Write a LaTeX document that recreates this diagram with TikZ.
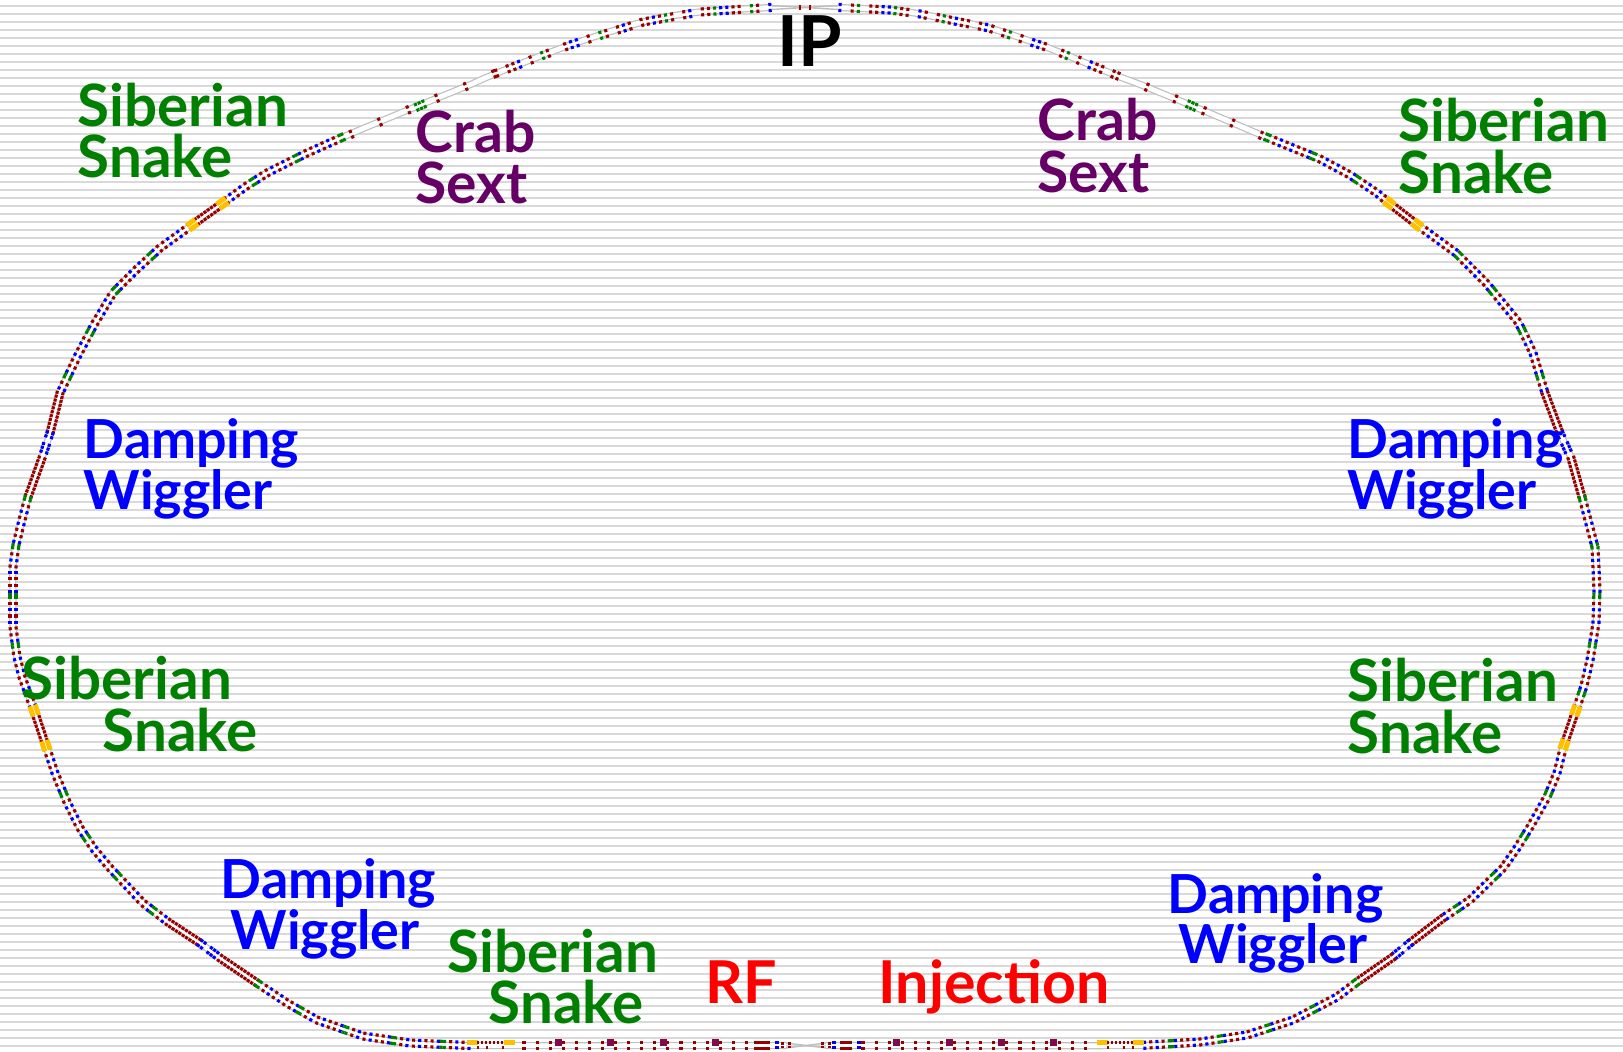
\documentclass[tikz,border=0pt]{standalone}
\usepackage{fontspec}
\setmainfont{Lato}
\usetikzlibrary{decorations.markings}
\definecolor{stripegray}{RGB}{217,217,217}
\definecolor{ringline}{RGB}{190,190,190}
\definecolor{magR}{RGB}{153,0,0}
\definecolor{magB}{RGB}{0,0,255}
\definecolor{magG}{RGB}{0,128,0}
\definecolor{snakeY}{RGB}{255,192,0}
\definecolor{rfP}{RGB}{128,10,75}
\definecolor{crabP}{RGB}{102,0,102}
\definecolor{labG}{RGB}{0,128,0}
\newcommand{\magcolor}[1]{\ifcase#1 ringline\or magR\or magB\or magG\fi}
\newcommand{\ringpart}[2]{\path[#1] plot coordinates {#2};}
\newcommand{\snakepair}{\fill[snakeY] (-1.5pt,0.1pt) rectangle (1.5pt,1.5pt); \fill[snakeY] (-1.5pt,-0.1pt) rectangle (1.5pt,-1.5pt);}
\begin{document}
\begin{tikzpicture}[
    x=0.01cm, y=-0.01cm,
    stripe/.style={stripegray, line width=0.57pt},
    ringpipe/.style={ringline, line width=0.34pt, double=white, double distance=1.36pt},
    ringcross/.style={ringline, line width=0.4pt},
    % 0 gap, 1 red, 2 blue, 3 green
    lattice/.style n args={3}{decorate, decoration={markings,
        mark=between positions 0 and 1 step #3 with {
            \pgfmathtruncatemacro\magn{mod(\pgfkeysvalueof{/pgf/decoration/mark info/sequence number}-1,#1)}
            \pgfmathtruncatemacro\magk{{#2}[\magn]}
            \ifnum\magk>0
            \edef\magcol{\magcolor{\magk}}
            \fill[\magcol] (-0.44pt,0.4pt) rectangle (0.44pt,1.3pt);
            \fill[\magcol] (-0.44pt,-0.4pt) rectangle (0.44pt,-1.3pt);
            \fi
        }}},
    irmags/.style={lattice={49}{2,0,1,3,0,1,1,2,2,3,1,1,0,2,1,0,1,3,1,2,1,1,0,1,2,1,0,1,3,0,1,0,2,2,1,0,0,1,3,0,1,0,2,1,1,0,1,1,1}{1.75pt}},
    arcmags/.style={lattice={16}{3,3,0,1,0,2,0,1,0,2,0,1,0,1,0,2}{0.88pt}},
    densemags/.style={lattice={1}{1,1}{1.14pt}},
    bluemags/.style={lattice={7}{2,2,0,2,2,2,0}{1.14pt}},
    crabmags/.style={lattice={1}{3,3}{1.14pt}},
    sparsemags/.style={lattice={1}{1,1}{8.8pt}},
    rfmags/.style={lattice={1}{1,1}{3.72pt}},
    snakeends/.style={decorate, decoration={markings,
        mark=at position 0.01 with {\snakepair},
        mark=at position 0.99 with {\snakepair}}},
    mag/.style={magR},
    lab/.style={anchor=base west, inner sep=0pt, yshift=-0.4pt, font=\fontsize{20}{20}\selectfont\bfseries},
    snakelab/.style={lab, text=labG, font=\fontsize{16.6}{17}\selectfont\bfseries},
    wiglab/.style={lab, text=magB, font=\fontsize{15.3}{16}\selectfont\bfseries},
    crablab/.style={lab, text=crabP, font=\fontsize{16.2}{17}\selectfont\bfseries},
    redlab/.style={lab, text=red, font=\fontsize{16.8}{17}\selectfont\bfseries}
]
\useasboundingbox (0,0) rectangle (1623,1052);

% Background stripes
\foreach \k in {0,...,130}
    \draw[stripe] (0,5.7+8*\k) -- (1623,5.7+8*\k);

% Beam pipe
\draw[ringpipe] plot[smooth] coordinates {(838,7.5) (890,10) (920,14) (989,28) (1046,47) (1115,75) (1144,86) (1207,112) (1266,137) (1320,159) (1350,175) (1377,193) (1389,203) (1417.5,225) (1456,253) (1486,283) (1518,322) (1533,353) (1545,393) (1560,433) (1571,458) (1582,497) (1595,547) (1597,590) (1596,623) (1590,660) (1584,686) (1576,710) (1564,745) (1557,773) (1547,797) (1530,827) (1517,848) (1503,868) (1470,900) (1443,918) (1410,943) (1393,957) (1357,982) (1337,997) (1293,1020) (1247,1035) (1200,1042) (1142,1045.5) (826,1045.5)};
\draw[ringpipe] plot[smooth] coordinates {(772,7.5) (700,12) (643,22) (570,45) (497,73) (467,86) (403,112) (343,137) (305,154) (267,173) (245,187) (223,203) (192,225) (160,248) (136,270) (113,293) (95,323) (77,357) (60,393) (50,433) (42,458) (28,497) (22,520) (16,545) (13,567) (13,600) (13,627) (17,657) (22,677) (34,710) (46,746) (55,773) (67,802) (80,828) (94,849) (110,868) (143,903) (168,922) (200,943) (220,958) (257,983) (287,1003) (317,1020) (363,1036) (410,1043) (470,1045.5) (786,1045.5)};
\draw[ringcross] (772,5.5) -- (838,9.5);
\draw[ringcross] (772,9.5) -- (838,5.5);
\draw[ringcross] (786,1043) -- (826,1048);
\draw[ringcross] (786,1048) -- (826,1043);

% Right half
\ringpart{irmags}{(840,7.5) (890,10) (920,14) (989,28) (1046,47) (1118,76)}
\ringpart{sparsemags}{(1118,76) (1144,86) (1207,112) (1266,137.5)}
\ringpart{crabmags}{(1188,104) (1197,108)}
\ringpart{arcmags}{(1266,137) (1320,159) (1350,175) (1377,193) (1389,203)}
\ringpart{densemags}{(1389,203) (1417.5,225)}
\ringpart{arcmags}{(1417.5,225) (1456,253) (1486,283) (1518,322) (1533,353) (1545,393)}
\ringpart{densemags}{(1545,393) (1560,433)}
\ringpart{bluemags}{(1560,433) (1571,458)}
\ringpart{densemags}{(1571,458) (1582,497)}
\ringpart{arcmags}{(1582,497) (1595,547) (1597,590) (1596,623) (1590,660) (1584,686) (1576,710)}
\ringpart{densemags}{(1576,710) (1564,745)}
\ringpart{arcmags}{(1564,745) (1557,773) (1547,797) (1530,827) (1517,848) (1503,868) (1470,900) (1443,918)}
\ringpart{densemags}{(1443,918) (1410,943)}
\ringpart{bluemags}{(1410,943) (1393,957)}
\ringpart{densemags}{(1393,957) (1357,982)}
\ringpart{arcmags}{(1357,982) (1337,997) (1293,1020) (1247,1035) (1200,1042) (1140,1045.5)}

% Left half
\ringpart{irmags}{(770,7.5) (700,12) (643,22) (570,45) (497,73) (494,74)}
\ringpart{sparsemags}{(494,74) (467,86) (403,112) (345,137)}
\ringpart{crabmags}{(424,104) (415,108)}
\ringpart{arcmags}{(343,137) (305,154) (267,173) (245,187) (223,203)}
\ringpart{densemags}{(223,203) (192,225)}
\ringpart{arcmags}{(192,225) (160,248) (136,270) (113,293) (95,323) (77,357) (60,393)}
\ringpart{densemags}{(60,393) (50,433)}
\ringpart{bluemags}{(50,433) (42,458)}
\ringpart{densemags}{(42,458) (28,497)}
\ringpart{arcmags}{(28,497) (22,520) (16,545) (13,567) (13,600) (13,627) (17,657) (22,677) (34,710)}
\ringpart{densemags}{(34,710) (46,746)}
\ringpart{arcmags}{(46,746) (55,773) (67,802) (80,828) (94,849) (110,868) (143,903) (168,922)}
\ringpart{densemags}{(168,922) (200,943)}
\ringpart{bluemags}{(200,943) (220,958)}
\ringpart{densemags}{(220,958) (257,983)}
\ringpart{arcmags}{(257,983) (287,1003) (317,1020) (363,1036) (410,1043) (470,1045.5)}

% Snake blocks
\ringpart{snakeends}{(1389,203) (1417.5,225)}
\ringpart{snakeends}{(1576,710) (1564,745)}
\ringpart{snakeends}{(223,203) (192,225)}
\ringpart{snakeends}{(34,710) (46,746)}

% Straight with RF and injection
\ringpart{rfmags}{(524,1045.5) (752,1045.5)}
\ringpart{rfmags}{(863,1045.5) (1090,1045.5)}
\ringpart{densemags}{(756,1045.5) (769,1045.5)}
\ringpart{densemags}{(842,1045.5) (853,1045.5)}
\foreach \x in {558,610,663,715,896,949,1001,1053}
    \fill[rfP] (\x-3.5,1039.5) rectangle (\x+3.5,1046.5);
\foreach \x in {472,509,1102,1138}
    \fill[snakeY] (\x-5.5,1040) rectangle (\x+5.5,1045.5);
\foreach \x in {478,482,486,490,494,498,502,1108,1112,1116,1120,1124,1128,1132}
    \fill[mag] (\x-1.4,1041.5) rectangle (\x+1.4,1044.5);
\foreach \x in {478,487,503,1108,1124,1133}
    \fill[mag] (\x-1.4,1046.5) rectangle (\x+1.4,1049.5);
\foreach \x in {777,834,859} {
    \fill[magB] (\x-1.8,1041.5) rectangle (\x+1.8,1044.5);
    \fill[magB] (\x-1.8,1046.5) rectangle (\x+1.8,1049.5);
}
\foreach \x in {782,789,822,829} {
    \fill[mag] (\x-1.5,1042.5) rectangle (\x+1.5,1044.8);
    \fill[mag] (\x-1.5,1046.2) rectangle (\x+1.5,1048.5);
}

% Interaction point
\foreach \x in {800,810}
    \fill[mag] (\x-1,5) rectangle (\x+1,10);

% Labels
\node[lab] (ip) at (777,65) {IP};
\node[snakelab] (snTLa) at (77,125) {Siberian};
\node[snakelab] (snTLb) at (77,176) {Snake};
\node[snakelab] (snTRa) at (1398,140) {Siberian};
\node[snakelab] (snTRb) at (1398,192) {Snake};
\node[snakelab] (snLa) at (21,698) {Siberian};
\node[snakelab] (snLb) at (102,750) {Snake};
\node[snakelab] (snRa) at (1347,700) {Siberian};
\node[snakelab] (snRb) at (1347,752) {Snake};
\node[snakelab] (snBa) at (447,971) {Siberian};
\node[snakelab] (snBb) at (488,1022) {Snake};
\node[crablab] (crLa) at (415,151) {Crab};
\node[crablab] (crLb) at (415,202) {Sext};
\node[crablab] (crRa) at (1037,139) {Crab};
\node[crablab] (crRb) at (1037,191) {Sext};
\node[wiglab] (wgLa) at (83,457) {Damping};
\node[wiglab] (wgLb) at (83,508) {Wiggler};
\node[wiglab] (wgRa) at (1347,457) {Damping};
\node[wiglab] (wgRb) at (1347,508) {Wiggler};
\node[wiglab] (wgBLa) at (220,897) {Damping};
\node[wiglab] (wgBLb) at (230,948) {Wiggler};
\node[wiglab] (wgBRa) at (1167,912) {Damping};
\node[wiglab] (wgBRb) at (1178,962) {Wiggler};
\node[redlab] (rf) at (705,1002) {RF};
\node[redlab] (inj) at (878,1002) {Injection};

\end{tikzpicture}
\end{document}
